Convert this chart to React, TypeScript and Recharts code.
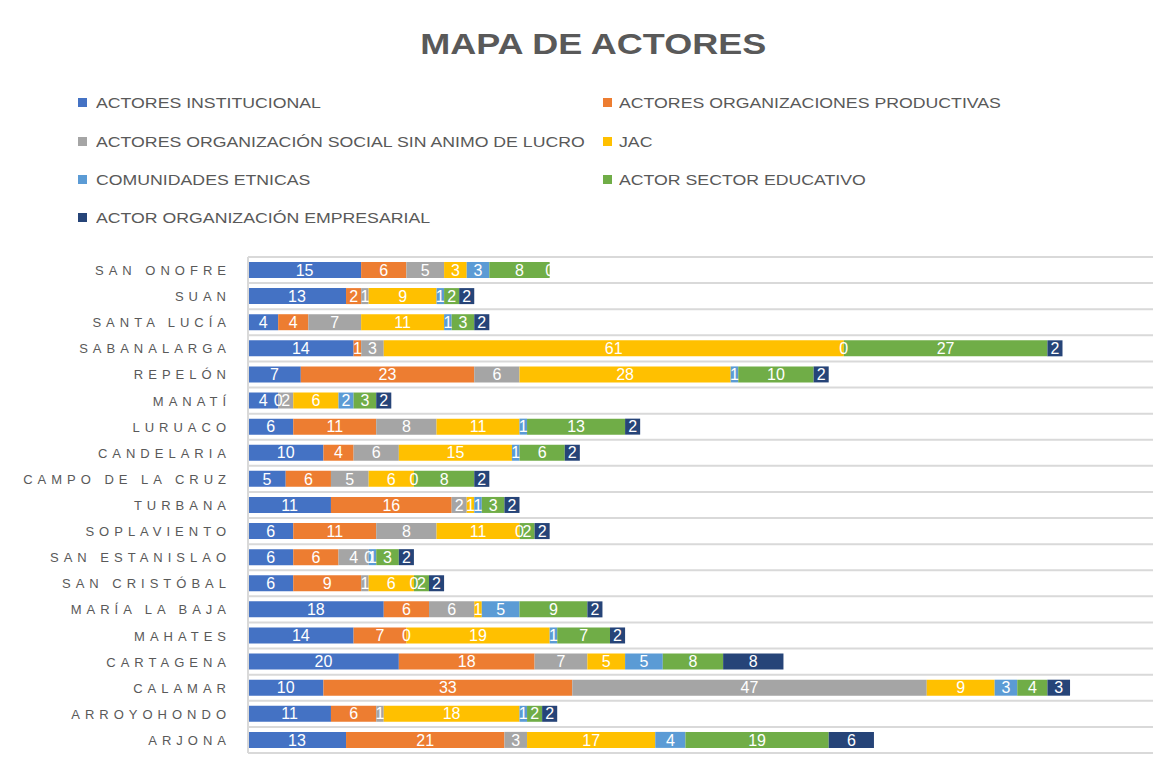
import React from "react";
import { BarChart, Bar, XAxis, YAxis, CartesianGrid, LabelList, ReferenceDot } from "recharts";

const categories = [
  "SAN ONOFRE", "SUAN", "SANTA LUCÍA", "SABANALARGA", "REPELÓN", "MANATÍ", "LURUACO",
  "CANDELARIA", "CAMPO DE LA CRUZ", "TURBANA", "SOPLAVIENTO", "SAN ESTANISLAO",
  "SAN CRISTÓBAL", "MARÍA LA BAJA", "MAHATES", "CARTAGENA", "CALAMAR", "ARROYOHONDO", "ARJONA",
];

const institucional = [15, 13, 4, 14, 7, 4, 6, 10, 5, 11, 6, 6, 6, 18, 14, 20, 10, 11, 13];
const productivas = [6, 2, 4, 1, 23, 0, 11, 4, 6, 16, 11, 6, 9, 6, 7, 18, 33, 6, 21];
const social = [5, 1, 7, 3, 6, 2, 8, 6, 5, 2, 8, 4, 1, 6, 0, 7, 47, 1, 3];
const jac = [3, 9, 11, 61, 28, 6, 11, 15, 6, 1, 11, 0, 6, 1, 19, 5, 9, 18, 17];
const etnicas = [3, 1, 1, 0, 1, 2, 1, 1, 0, 1, 0, 1, 0, 5, 1, 5, 3, 1, 4];
const educativo = [8, 2, 3, 27, 10, 3, 13, 6, 8, 3, 2, 3, 2, 9, 7, 8, 4, 2, 19];
const empresarial = [0, 2, 2, 2, 2, 2, 2, 2, 2, 2, 2, 2, 2, 2, 2, 8, 3, 2, 6];

const seriesNames = [
  "ACTORES INSTITUCIONAL",
  "ACTORES ORGANIZACIONES PRODUCTIVAS",
  "ACTORES ORGANIZACIÓN SOCIAL SIN ANIMO DE LUCRO",
  "JAC",
  "COMUNIDADES ETNICAS",
  "ACTOR SECTOR EDUCATIVO",
  "ACTOR ORGANIZACIÓN EMPRESARIAL",
];
const seriesColors = ["#4472C4", "#ED7D31", "#A5A5A5", "#FFC000", "#5B9BD5", "#70AD47", "#264478"];
const seriesValues = [institucional, productivas, social, jac, etnicas, educativo, empresarial];
const seriesKeys = ["s0", "s1", "s2", "s3", "s4", "s5", "s6"];

const data = categories.map((name, i) => {
  const row: Record<string, any> = { name };
  seriesValues.forEach((vals, k) => {
    row[seriesKeys[k]] = vals[i];
  });
  return row;
});

// zero-valued segments still get a "0" data label (as in the source chart)
const zeroLabels: { cat: string; at: number; key: string }[] = [];
categories.forEach((cat, i) => {
  let cum = 0;
  seriesValues.forEach((vals, k) => {
    if (vals[i] === 0) zeroLabels.push({ cat, at: cum, key: `${cat}-${k}` });
    cum += vals[i];
  });
});

const FONT = "'Liberation Sans', Arial, sans-serif";
const LABEL_SIZE = 16;

const CatTick = (props: any) => {
  const { x, y, payload } = props;
  return (
    <text
      x={x - 9}
      y={y}
      dy={5}
      textAnchor="end"
      fill="#595959"
      fontSize={13}
      letterSpacing={5}
      fontFamily={FONT}
    >
      {payload.value}
    </text>
  );
};

const gridGen = (props: any) => {
  const { offset } = props;
  const n = categories.length;
  const out: number[] = [];
  for (let i = 0; i <= n; i++) out.push(offset.top + (i * offset.height) / n);
  return out;
};

export default function App() {
  const legendRows = [[0, 1], [2, 3], [4, 5], [6]];
  const rowTops = [87, 126, 164, 202];
  const colX = [70, 595];
  return (
    <div
      style={{
        position: "relative",
        width: 1157,
        height: 757,
        outline: "1px solid #D9D9D9",
        background: "#fff",
        fontFamily: FONT,
      }}
    >
      <div
        style={{
          position: "absolute",
          left: 0,
          top: 21,
          width: 1170,
          textAlign: "center",
          fontSize: 30,
          lineHeight: "30px",
          fontWeight: "bold",
          color: "#595959",
        }}
      >
        <span style={{ display: "inline-block", transform: "scaleX(1.2)" }}>MAPA DE ACTORES</span>
      </div>
      {legendRows.map((row, r) =>
        row.map((k, c) => (
          <div
            key={k}
            style={{
              position: "absolute",
              left: colX[c],
              top: rowTops[r],
              height: 15,
              display: "flex",
              alignItems: "center",
              whiteSpace: "nowrap",
            }}
          >
            <div style={{ width: 9, height: 9, background: seriesColors[k], marginRight: c === 0 ? 9 : 7 }} />
            <span
              style={{
                display: "inline-block",
                fontSize: 15,
                lineHeight: "15px",
                color: "#595959",
                transform: "scaleX(1.18)",
                transformOrigin: "left center",
              }}
            >
              {seriesNames[k]}
            </span>
          </div>
        ))
      )}
      <div style={{ position: "absolute", left: 0, top: 0 }}>
        <BarChart
          width={1157}
          height={757}
          data={data}
          layout="vertical"
          margin={{ top: 249, right: 12, bottom: 12, left: 0 }}
          barSize={16}
        >
          <CartesianGrid
            horizontal={true}
            vertical={false}
            stroke="#D9D9D9"
            strokeWidth={2}
            horizontalCoordinatesGenerator={gridGen}
          />
          <XAxis type="number" domain={[0, 120]} hide />
          <YAxis
            type="category"
            dataKey="name"
            width={240}
            tickLine={false}
            axisLine={{ stroke: "#D9D9D9", strokeWidth: 2 }}
            tick={<CatTick />}
            interval={0}
          />
          {seriesKeys.map((key, k) => (
            <Bar
              key={key}
              dataKey={key}
              name={seriesNames[k]}
              stackId="a"
              fill={seriesColors[k]}
              isAnimationActive={false}
            >
              <LabelList
                dataKey={key}
                position="center"
                fill="#FFFFFF"
                fontSize={LABEL_SIZE}
                fontFamily={FONT}
              />
            </Bar>
          ))}
          {zeroLabels.map((z) => (
            <ReferenceDot
              key={z.key}
              x={z.at}
              y={z.cat}
              r={0}
              fill="none"
              stroke="none"
              label={{ value: "0", position: "center", fill: "#FFFFFF", fontSize: LABEL_SIZE, fontFamily: FONT }}
            />
          ))}
        </BarChart>
      </div>
    </div>
  );
}
